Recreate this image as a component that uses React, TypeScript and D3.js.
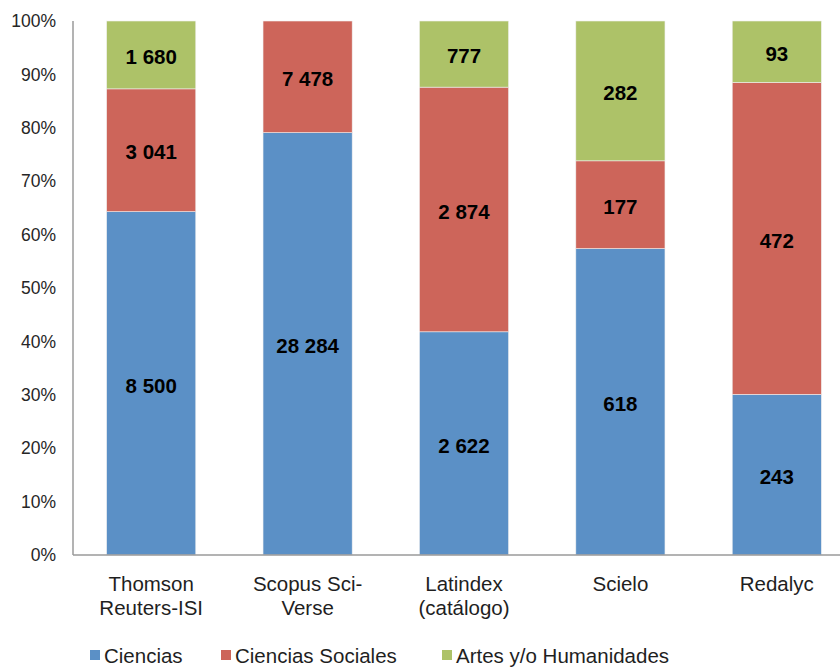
import React from "react";
import * as d3 from "d3";

const categories = [["Thomson", "Reuters-ISI"], ["Scopus Sci-", "Verse"], ["Latindex", "(catálogo)"], ["Scielo"], ["Redalyc"]];
const seriesNames = ["Ciencias", "Ciencias Sociales", "Artes y/o Humanidades"];
const ciencias = [8500, 28284, 2622, 618, 243];
const sociales = [3041, 7478, 2874, 177, 472];
const artes = [1680, 0, 777, 282, 93];
const yTicks = [0, 0.1, 0.2, 0.3, 0.4, 0.5, 0.6, 0.7, 0.8, 0.9, 1];
const colors = ["#5B90C6", "#CD655A", "#ADC268"];

const fmt = (v: number) => d3.format(",")(v).replace(/,/g, " ");

export default function App() {
  const W = 840, H = 667;
  const left = 73, top = 21, bottom = 555, right = 855;
  const x = d3.scaleBand().domain(categories.map((_, i) => String(i))).range([left, right]).paddingInner(0.43).paddingOuter(0.215);
  const y = d3.scaleLinear().domain([0, 1]).range([bottom, top]);
  const series = [ciencias, sociales, artes];
  const rows = categories.map((_, i) => ({ key: String(i), s0: ciencias[i], s1: sociales[i], s2: artes[i] }));
  const stack = d3.stack<any>().keys(["s0", "s1", "s2"]).offset(d3.stackOffsetExpand);
  const stacked = stack(rows);
  const font = "Liberation Sans, Arial, sans-serif";
  const legendX = [90, 221, 442];
  return (
    <svg width={W} height={H} style={{ position: "absolute", left: 0, top: 0 }} fontFamily={font}>
      {yTicks.map((t) => (
        <text key={t} x={56} y={y(t)} dy="0.35em" textAnchor="end" fontSize={17.5} fill="#262626">
          {Math.round(t * 100)}%
        </text>
      ))}
      {stacked.map((layer, si) =>
        layer.map((d, i) => {
          const v = series[si][i];
          if (!v) return null;
          const y0 = y(d[0]), y1 = y(d[1]);
          return (
            <g key={si + "-" + i}>
              <rect x={x(String(i))} y={y1} width={x.bandwidth()} height={y0 - y1} fill={colors[si]} stroke="#f0f0f0" strokeWidth={0.6} />
              <text x={(x(String(i)) as number) + x.bandwidth() / 2} y={(y0 + y1) / 2 + 2} dy="0.35em" textAnchor="middle" fontSize={20.5} fontWeight="bold" fill="#000">
                {fmt(v)}
              </text>
            </g>
          );
        })
      )}
      <line x1={left} x2={left} y1={top} y2={bottom} stroke="#9a9a9a" strokeWidth={1.5} />
      <line x1={left} x2={W} y1={bottom} y2={bottom} stroke="#9a9a9a" strokeWidth={1.5} />
      {categories.map((lines, i) => (
        <text key={i} x={(x(String(i)) as number) + x.bandwidth() / 2} y={591} textAnchor="middle" fontSize={20.5} fill="#1f1f1f">
          {lines.map((l, j) => (
            <tspan key={j} x={(x(String(i)) as number) + x.bandwidth() / 2} dy={j === 0 ? 0 : 24}>{l}</tspan>
          ))}
        </text>
      ))}
      {seriesNames.map((n, i) => (
        <g key={n}>
          <rect x={legendX[i]} y={650} width={10} height={10} fill={colors[i]} />
          <text x={legendX[i] + 14} y={663} fontSize={20.5} fill="#1f1f1f">{n}</text>
        </g>
      ))}
    </svg>
  );
}
